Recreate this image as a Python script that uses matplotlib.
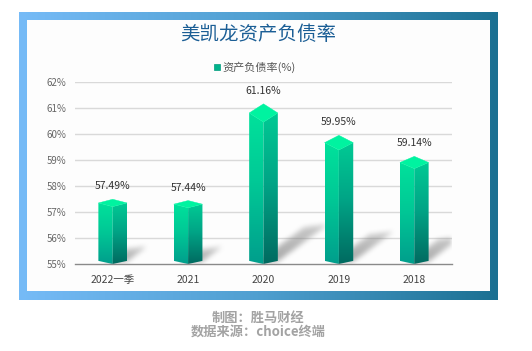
import numpy as np
import matplotlib
matplotlib.use("Agg")
import matplotlib.pyplot as plt
from matplotlib.colors import LinearSegmentedColormap
from matplotlib.patches import Polygon, Rectangle
from matplotlib.path import Path

plt.rcParams['font.family'] = ['Noto Sans CJK SC', 'DejaVu Sans']

# data
categories = ["2022一季", "2021", "2020", "2019", "2018"]
debt_ratio = [57.49, 57.44, 61.16, 59.95, 59.14]
yticks = [55, 56, 57, 58, 59, 60, 61, 62]
title = "美凯龙资产负债率"
legend_label = "资产负债率(%)"
credit_1 = "制图：胜马财经"
credit_2 = "数据来源：choice终端"

W, H = 532, 351
fig = plt.figure(figsize=(W / 100, H / 100), dpi=100)
fig.patch.set_facecolor("white")

# background layer in pixel coordinates
bg = fig.add_axes([0, 0, 1, 1], zorder=0)
bg.axis("off")
grad = np.linspace(0, 1, 256).reshape(1, -1)
frame_cmap = LinearSegmentedColormap.from_list("frame", ["#76bbf7", "#4f9fd0", "#1b7092"])
bg.imshow(grad, cmap=frame_cmap, extent=(19, 498, 300, 12), aspect="auto", zorder=0)
bg.add_patch(Rectangle((27, 20), 463, 271, facecolor="#fdfdfd", edgecolor="none", zorder=1))
bg.set_xlim(0, W)
bg.set_ylim(H, 0)

bg.text(258, 34, title, fontsize=14, color="#1b5e95", ha="center", va="center", zorder=2)
bg.add_patch(Rectangle((213.5, 63.5), 6, 6, facecolor="#00b48c", edgecolor="#009b7d", lw=0.5, zorder=2))
bg.text(222, 67.5, legend_label, fontsize=8, color="#555555", ha="left", va="center", zorder=2)
bg.text(258, 318, credit_1, fontsize=9.5, color="#a3a3a3", ha="center", va="center",
        fontweight="bold", zorder=2)
bg.text(258, 332, credit_2, fontsize=9.5, color="#a3a3a3", ha="center", va="center",
        fontweight="bold", zorder=2)

# chart axes
x0, x1, ytop, ybot = 75, 452, 82, 264
ax = fig.add_axes([x0 / W, (H - ybot) / H, (x1 - x0) / W, (ybot - ytop) / H], zorder=1)
ax.patch.set_alpha(0)
xmin, xmax, ymin, ymax = -0.5, 4.5, 55, 62
px_x = (x1 - x0) / (xmax - xmin)
px_y = (ybot - ytop) / (ymax - ymin)

for yv in yticks[1:]:
    ax.axhline(yv, color="#d9d9d9", lw=1, zorder=0.5)

# soft shadows
nx, ny = x1 - x0, ybot - ytop
gx = xmin + (np.arange(nx) + 0.5) / px_x
gy = ymin + (np.arange(ny) + 0.5) / px_y
GX, GY = np.meshgrid(gx, gy)
pts = np.column_stack([GX.ravel(), GY.ravel()])
shadow = np.zeros(GX.shape)
w = 0.19
for i, v in enumerate(debt_ratio):
    hpx = (v - ymin) * px_y
    dx = 0.31 * hpx / px_x
    dy = 0.23 * hpx / px_y
    poly = [(i - 0.12, ymin), (i + w, ymin + 0.1), (i + w + dx, ymin + 0.1 + dy),
            (i - 0.12 + dx, ymin + dy)]
    m = Path(poly).contains_points(pts).reshape(GX.shape).astype(float)
    fade = np.clip(1 - (GY - ymin) / max(dy, 0.01) * 0.4, 0, 1)
    shadow = np.maximum(shadow, m * fade)

def box_blur(a, r):
    k = np.ones(2 * r + 1) / (2 * r + 1)
    a = np.apply_along_axis(lambda c: np.convolve(c, k, mode="same"), 0, a)
    a = np.apply_along_axis(lambda c: np.convolve(c, k, mode="same"), 1, a)
    return a

shadow = box_blur(box_blur(shadow, 3), 2)
rgba = np.zeros(shadow.shape + (4,))
rgba[..., :3] = 0.5
rgba[..., 3] = np.clip(shadow * 0.7, 0, 1)
ax.imshow(rgba, extent=(xmin, xmax, ymin, ymax), origin="lower", aspect="auto", zorder=1)

# 3D prism bars
left_cmap = LinearSegmentedColormap.from_list("left", ["#009e8c", "#00c896", "#00e59c"])
right_cmap = LinearSegmentedColormap.from_list("right", ["#006a60", "#00a486", "#00cf96"])
vgrad = np.linspace(0, 1, 256).reshape(-1, 1)
hb = 0.12
for i, v in enumerate(debt_ratio):
    ht = 0.057 * (v - ymin)
    faces = [
        ([(i - w, ymin + hb), (i, ymin), (i, v - 2 * ht), (i - w, v - ht)], left_cmap),
        ([(i, ymin), (i + w, ymin + hb), (i + w, v - ht), (i, v - 2 * ht)], right_cmap),
    ]
    for verts, cmap in faces:
        patch = Polygon(verts, closed=True, facecolor="none", edgecolor="none",
                        transform=ax.transData)
        ax.add_patch(patch)
        im = ax.imshow(vgrad, cmap=cmap, extent=(i - w, i + w, ymin, v), origin="lower",
                       aspect="auto", zorder=3)
        im.set_clip_path(patch)
    top = [(i - w, v - ht), (i, v - 2 * ht), (i + w, v - ht), (i, v)]
    ax.add_patch(Polygon(top, closed=True, facecolor="#00f3a0", edgecolor="#00f3a0",
                         lw=0.3, zorder=4))
    ax.text(i, v + 0.5, f"{v:.2f}%", ha="center", va="center", fontsize=7.5,
            color="#333333", zorder=5)

ax.set_xlim(xmin, xmax)
ax.set_ylim(ymin, ymax)
ax.set_xticks(range(len(categories)))
ax.set_xticklabels(categories, fontsize=7.5, color="#444444")
ax.set_yticks(yticks)
ax.set_yticklabels([f"{t}%" for t in yticks], fontsize=7, color="#666666")
ax.tick_params(axis="x", length=0, pad=8)
ax.tick_params(axis="y", length=0, pad=6)
for s in ["top", "right", "left"]:
    ax.spines[s].set_visible(False)
ax.spines["bottom"].set_color("#8a8a8a")
ax.spines["bottom"].set_linewidth(1)
ax.spines["bottom"].set_zorder(6)

fig.savefig("out.png", dpi=100)
